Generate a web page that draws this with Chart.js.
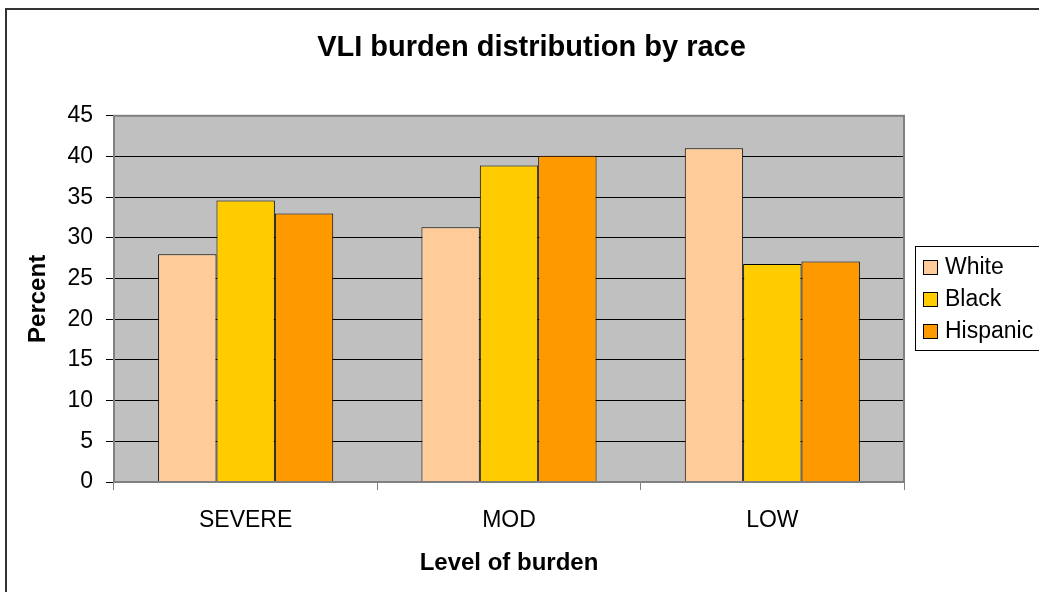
<!DOCTYPE html>
<html>
<head>
<meta charset="utf-8">
<script src="https://cdn.jsdelivr.net/npm/chart.js@4/dist/chart.umd.min.js"></script>
<style>
  html, body { margin: 0; padding: 0; background: #fff; overflow: hidden; }
  canvas { display: block; }
</style>
</head>
<body>
<canvas id="chart" width="1039" height="592"></canvas>
<script>
// values
const levels = ['SEVERE', 'MOD', 'LOW'];
const white = [28.0, 31.3, 41.0];
const black = [34.6, 38.9, 26.8];
const hispanic = [33.0, 40.1, 27.1];

Chart.defaults.font.family = '"Liberation Sans", Arial, sans-serif';
Chart.defaults.color = '#000';

// gray plot area + outer frame
const frame = {
    id: 'frame',
    beforeDraw(chart) {
        let ctx = chart.ctx, a = chart.chartArea;
        ctx.save();
        ctx.strokeStyle = '#333';
        ctx.lineWidth = 2;
        ctx.strokeRect(6, 9, 1200, 800);
        ctx.fillStyle = '#C0C0C0';
        ctx.fillRect(a.left, a.top, a.right - a.left, a.bottom - a.top);
        ctx.restore();
    },
    afterDatasetsDraw(chart) {
        let ctx = chart.ctx, a = chart.chartArea;
        ctx.save();
        ctx.strokeStyle = '#808080';
        ctx.lineWidth = 2;
        ctx.strokeRect(a.left, a.top, a.right - a.left, a.bottom - a.top);
        ctx.restore();
    }
};

// boxed legend to the right, cut off by the picture edge
const boxLegend = {
    id: 'boxLegend',
    afterDraw(chart) {
        let ctx = chart.ctx;
        let sets = chart.data.datasets;
        ctx.save();
        ctx.strokeStyle = '#000';
        ctx.lineWidth = 1;
        ctx.strokeRect(915.5, 246.5, 200, 104);
        ctx.font = '23px "Liberation Sans", Arial, sans-serif';
        ctx.textBaseline = 'middle';
        for (var i = 0; i < sets.length; i++) {
            let y = 267 + i * 32;
            ctx.fillStyle = sets[i].backgroundColor;
            ctx.fillRect(923, y - 7, 14, 14);
            ctx.strokeStyle = '#000';
            ctx.strokeRect(923.5, y - 6.5, 14, 14);
            ctx.fillStyle = '#000';
            ctx.fillText(sets[i].label, 945, y + 1);
        }
        ctx.restore();
    }
};

new Chart(document.getElementById('chart'), {
    type: 'bar',
    data: {
        labels: levels,
        datasets: [
            { label: 'White', data: white, backgroundColor: '#FFCC99' },
            { label: 'Black', data: black, backgroundColor: '#FFCC00' },
            { label: 'Hispanic', data: hispanic, backgroundColor: '#FF9900' }
        ]
    },
    options: {
        responsive: false,
        animation: false,
        layout: { padding: { left: 24, right: 0, top: 0, bottom: 0 } },
        datasets: {
            bar: {
                borderColor: '#000',
                borderWidth: 1,
                categoryPercentage: 0.665,
                barPercentage: 1.0
            }
        },
        plugins: {
            legend: { display: false },
            tooltip: { enabled: false },
            title: {
                display: true,
                text: 'VLI burden distribution by race',
                font: { size: 29, weight: 'bold' },
                padding: { top: 31, bottom: 50 }
            }
        },
        scales: {
            x: {
                afterFit(scale) { scale.height = 110; },
                grid: {
                    drawOnChartArea: false,
                    drawTicks: true,
                    tickLength: 8,
                    color: '#808080'
                },
                border: { display: false },
                ticks: { font: { size: 23 }, padding: 17 },
                title: {
                    display: true,
                    text: 'Level of burden',
                    font: { size: 24, weight: 'bold' },
                    padding: { bottom: 14 }
                }
            },
            y: {
                min: 0,
                max: 45,
                afterFit(scale) { scale.width = 90; },
                grid: { color: '#000', lineWidth: 1, tickLength: 8 },
                border: { display: false },
                ticks: { stepSize: 5, font: { size: 23 }, padding: 13 },
                title: {
                    display: true,
                    text: 'Percent',
                    font: { size: 24, weight: 'bold' },
                    padding: { top: 0 }
                }
            },
            // empty space on the right where the legend sits
            side: {
                position: 'right',
                min: 0,
                max: 45,
                afterFit(scale) { scale.width = 135; },
                grid: { drawOnChartArea: false, drawTicks: false },
                border: { display: false },
                ticks: { display: false }
            }
        }
    },
    plugins: [frame, boxLegend]
});
</script>
</body>
</html>
